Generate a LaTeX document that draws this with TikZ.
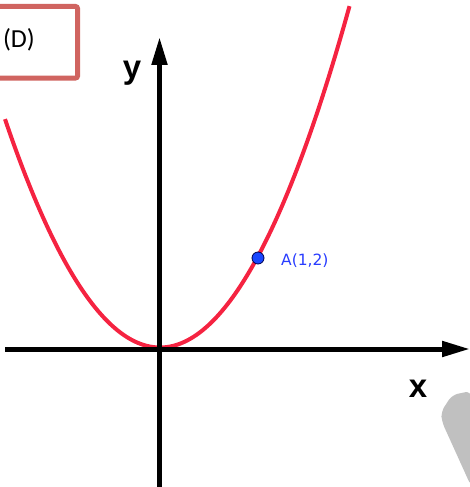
\documentclass[tikz,border=0pt]{standalone}
\usepackage{fontspec}
\setmainfont{DejaVu Sans}
\newfontfamily\calfont{Carlito}
\newfontfamily\arialfont{Liberation Sans}
\usetikzlibrary{arrows.meta}
\definecolor{boxred}{RGB}{208,100,96}
\definecolor{curvered}{RGB}{245,35,65}
\definecolor{ptblue}{RGB}{25,70,255}
\definecolor{lblblue}{RGB}{40,60,255}
\definecolor{wmgray}{RGB}{192,192,192}
\tikzset{
  axis/.style={line width=5pt,-{Triangle[length=28pt,width=15pt]}},
  axlabel/.style={font=\arialfont\bfseries\fontsize{33}{33}\selectfont,inner sep=0pt},
  curve/.style={line width=4pt,curvered},
}
\begin{document}
\begin{tikzpicture}[x=1pt,y=-1pt]
\useasboundingbox (0,0) rectangle (470,487);
% watermark shape
\fill[wmgray,rounded corners=6pt] (471,391) -- (452,395) -- (441,412) -- (442,422) -- (471,486) -- cycle;
% box
\draw[boxred,line width=5pt,rounded corners=2pt] (-10,6.5) rectangle (77.5,78);
\node[font=\calfont\fontsize{26}{26}\selectfont,inner sep=0pt] (D) at (19,40) {(D)};
% curve
\draw[curve] plot[domain=5:349.5,samples=120,smooth] (\x,{347.5-0.0095*(\x-160)*(\x-160)});
% axes
\coordinate (xs) at (5,349);
\coordinate (xe) at (470,349);
\coordinate (ys) at (159.5,490);
\coordinate (ye) at (159.5,37);
\draw[axis] (xs) -- (xe);
\draw[axis] (ys) -- (ye);
\node[axlabel] (ylab) at (132,73) {y};
\node[axlabel] (xlab) at (418,389) {x};
% point A
\node[circle,fill=ptblue,draw=black!70!blue,line width=0.8pt,minimum size=12pt,inner sep=0pt] (A) at (258,258) {};
\node[anchor=west,text=lblblue,font=\fontsize{15.5}{15.5}\selectfont,inner sep=0pt] (Alab) at (281,261) {A(1,2)};
\end{tikzpicture}
\end{document}
